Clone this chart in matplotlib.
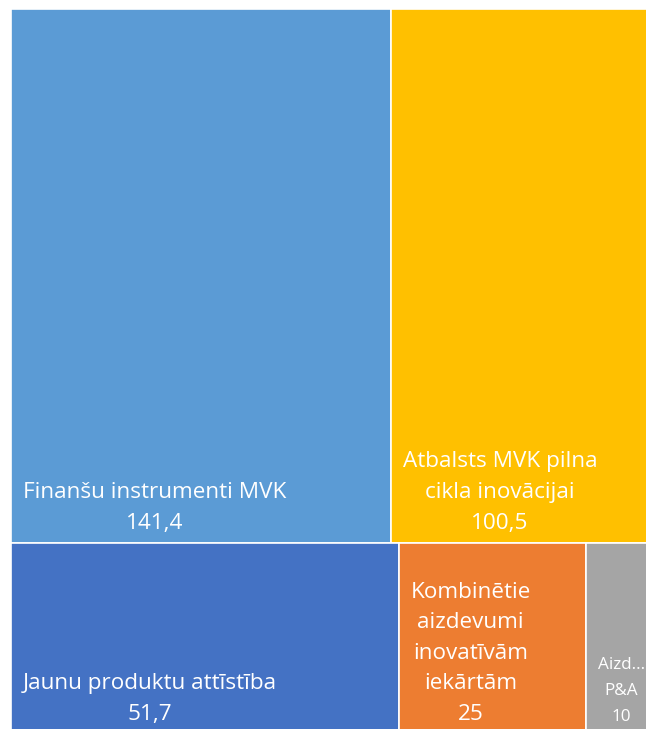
import matplotlib.pyplot as plt
from matplotlib.patches import Rectangle

# data (values in mln EUR)
labels_top = ["Finanšu instrumenti MVK", "Atbalsts MVK pilna\ncikla inovācijai"]
values_top = [141.4, 100.5]
labels_bottom = ["Jaunu produktu attīstība", "Kombinētie\naizdevumi\ninovatīvām\niekārtām", "Aizd...\nP&A"]
values_bottom = [51.7, 25, 10]
value_text_top = ["141,4", "100,5"]
value_text_bottom = ["51,7", "25", "10"]
colors_top = ["#5B9BD5", "#FFC000"]
colors_bottom = ["#4472C4", "#ED7D31", "#A5A5A5"]

plt.rcParams['font.family'] = ['Open Sans', 'DejaVu Sans']

fig = plt.figure(figsize=(6.46, 7.29), dpi=100)
ax = fig.add_axes([11 / 646, -5 / 729, 650 / 646, 725 / 729])
ax.set_xlim(0, 1)
ax.set_ylim(0, 1)
ax.axis('off')

total = sum(values_top) + sum(values_bottom)
rows = [
    (values_top, labels_top, value_text_top, colors_top),
    (values_bottom, labels_bottom, value_text_bottom, colors_bottom),
]

y_top = 1.0
for vals, labs, vtxt, cols in rows:
    row_sum = sum(vals)
    h = row_sum / total
    y0 = y_top - h
    x0 = 0.0
    for v, lab, vt, c in zip(vals, labs, vtxt, cols):
        w = v / row_sum
        ax.add_patch(Rectangle((x0, y0), w, h, facecolor=c, edgecolor='white', linewidth=1.2))
        small = v < 15
        ax.annotate(lab + "\n" + vt, xy=(x0, y0), xytext=(8.5, 6.5 if y0 > 0.1 else 6.5),
                    textcoords='offset points', ha='left', va='bottom',
                    multialignment='center', color='white',
                    fontsize=12.3 if small else 16.2,
                    linespacing=1.85 if small else 1.6)
        x0 += w
    y_top = y0

fig.savefig('out.png', dpi=100)
